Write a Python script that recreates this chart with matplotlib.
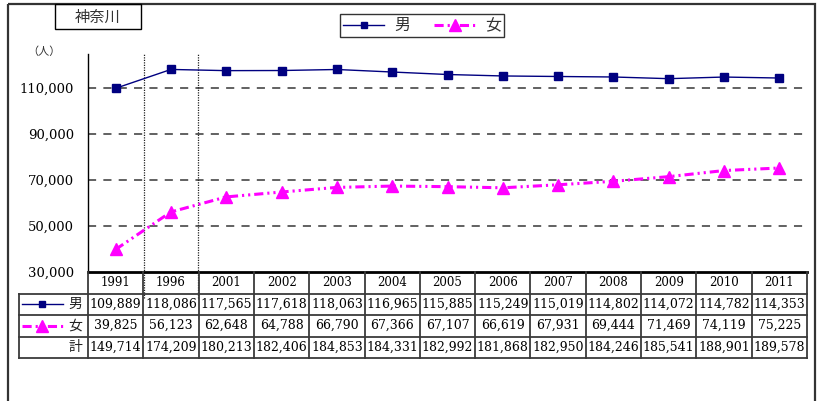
import matplotlib
matplotlib.use("Agg")
import matplotlib.pyplot as plt
from matplotlib.patches import Rectangle
from matplotlib.lines import Line2D

# data
years = ["1991", "1996", "2001", "2002", "2003", "2004", "2005",
         "2006", "2007", "2008", "2009", "2010", "2011"]
male = [109889, 118086, 117565, 117618, 118063, 116965, 115885,
        115249, 115019, 114802, 114072, 114782, 114353]
female = [39825, 56123, 62648, 64788, 66790, 67366, 67107,
          66619, 67931, 69444, 71469, 74119, 75225]
total = [149714, 174209, 180213, 182406, 184853, 184331, 182992,
         181868, 182950, 184246, 185541, 188901, 189578]
yticks = [30000, 50000, 70000, 90000, 110000]

JP = ["Noto Sans CJK JP", "DejaVu Sans"]
NUM = "DejaVu Serif"
MALE_C = "#000080"
FEM_C = "#FF00FF"
FEM_LS = (0, (3, 1.3, 0.7, 1.3, 0.7, 1.3))

W, H = 818, 401
fig = plt.figure(figsize=(W / 100, H / 100), dpi=100)


def fbox(l, t, r, b):
    """pixel box (left, top, right, bottom) -> figure fraction rect"""
    return [l / W, 1 - b / H, (r - l) / W, (b - t) / H]


# overlay in pixel coords for frame / title box
fx = fig.add_axes([0, 0, 1, 1], zorder=-1)
fx.set_xlim(0, W)
fx.set_ylim(H, 0)
fx.axis("off")
fx.add_patch(Rectangle((8, 4), 807, 420, fill=False, ec="#333333", lw=1.6,
                       clip_on=False))
fx.add_patch(Rectangle((55, 4), 86, 25, fill=False, ec="black", lw=1.0))
fx.text(98, 17, "神奈川", family=JP, fontsize=11, ha="center", va="center",
        color="#333333")
fx.text(44, 52, "（人）", family=JP, fontsize=8, ha="center", va="center",
        color="#333333")

# main plot
ax = fig.add_axes(fbox(88, 54, 807, 272))
x = range(len(years))
ax.plot(x, male, color=MALE_C, lw=1.0, marker="s", ms=5.5, zorder=4, clip_on=False)
ax.plot(x, female, color=FEM_C, lw=2.2, ls=FEM_LS, marker="^", ms=8,
        zorder=4, clip_on=False)
ax.set_xlim(-0.5, len(years) - 0.5)
ax.set_ylim(30000, 124800)
ax.set_yticks(yticks)
ax.set_yticklabels([f"{v:,}" for v in yticks], family=NUM, fontsize=9.5)
ax.tick_params(axis="y", length=0, pad=10)
ax.set_xticks([])
for v in yticks[1:]:
    ax.axhline(v, color="#555555", lw=1.3, ls=(0, (4.5, 4)), zorder=1)
for s in ("top", "right", "bottom"):
    ax.spines[s].set_visible(False)
ax.spines["left"].set_color("black")
ax.spines["left"].set_linewidth(1.0)
for xv in (0.52, 1.48):
    ax.axvline(xv, ymin=-0.12, ymax=1, color="#222222", lw=0.9, ls=(0, (1, 1)),
               clip_on=False, zorder=2)

# data table under the plot, sharing the category positions
tax = fig.add_axes(fbox(88, 272, 807, 358), sharex=ax)
tax.set_ylim(4, 0)
tax.axis("off")
n = len(years)
lab_x = -0.5 - (88 - 19) / 55.3
lc = "#3a3a3a"
tax.plot([-0.5, n - 0.5], [0, 0], color="black", lw=2.0, clip_on=False)
for r in (1, 2, 3, 4):
    tax.plot([lab_x, n - 0.5], [r, r], color=lc, lw=1.3, clip_on=False)
for i in range(n + 1):
    tax.plot([i - 0.5, i - 0.5], [0, 4], color=lc, lw=1.3, clip_on=False)
tax.plot([lab_x, lab_x], [1, 4], color=lc, lw=1.3, clip_on=False)
for i in range(n):
    tax.text(i, 0.5, years[i], ha="center", va="center", family=NUM, fontsize=8.5)
    tax.text(i, 1.5, f"{male[i]:,}", ha="center", va="center", family=NUM, fontsize=9)
    tax.text(i, 2.5, f"{female[i]:,}", ha="center", va="center", family=NUM, fontsize=9)
    tax.text(i, 3.5, f"{total[i]:,}", ha="center", va="center", family=NUM, fontsize=9)
name_x = -0.5 - 6 / 55.3
for r, name in ((1, "男"), (2, "女"), (3, "計")):
    tax.text(name_x, r + 0.5, name, ha="right", va="center", family=JP,
             fontsize=10, color="#222222")
s0 = lab_x + 3 / 55.3
s1 = lab_x + 44 / 55.3
tax.plot([s0, s1], [1.5, 1.5], color=MALE_C, lw=1.0, clip_on=False)
tax.plot([(s0 + s1) / 2], [1.5], color=MALE_C, marker="s", ms=5, clip_on=False)
tax.plot([s0, s1], [2.5, 2.5], color=FEM_C, lw=2.2, ls=FEM_LS, clip_on=False)
tax.plot([(s0 + s1) / 2], [2.5], color=FEM_C, marker="^", ms=8, clip_on=False)

# legend at the top
handles = [
    Line2D([0], [0], color=MALE_C, lw=1.0, marker="s", ms=5, label="男"),
    Line2D([0], [0], color=FEM_C, lw=2.2, ls=FEM_LS, marker="^", ms=8, label="女"),
]
leg = fig.legend(handles=handles, loc="upper center", ncol=2,
                 bbox_to_anchor=(422 / W, 1 - 6 / H), frameon=True,
                 fancybox=False, borderpad=0.2, handlelength=2.6,
                 columnspacing=1.5, handletextpad=0.6,
                 prop={"family": JP, "size": 11.5})
leg.get_frame().set_edgecolor("black")
leg.get_frame().set_linewidth(1.0)
for t in leg.get_texts():
    t.set_color("#333333")

fig.savefig("out.png", dpi=100)
